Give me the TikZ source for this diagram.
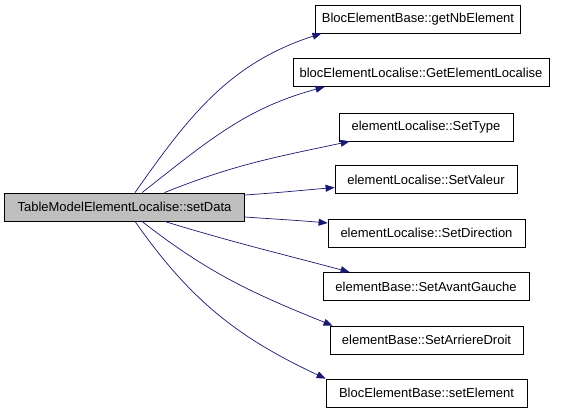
\documentclass[tikz,border=0pt]{standalone}
\usepackage{fontspec}
\setmainfont{Liberation Sans}
\definecolor{CallNavy}{HTML}{191970}
\definecolor{FnGray}{HTML}{BFBFBF}
\usetikzlibrary{arrows.meta,positioning}

\begin{document}
\begin{tikzpicture}[x=1pt,y=-1pt,>={Triangle[length=9pt,width=7pt]},
  fn/.style={draw,fill=white,line width=0.8pt,minimum height=28pt,inner xsep=6pt,font=\fontsize{13}{15}\selectfont},
  call/.style={->,CallNavy,line width=0.7pt}]
  \useasboundingbox (0,0) rectangle (565,413);
  \node[fn,fill=FnGray,minimum width=240pt] (main) at (124.5,207) {TableModelElementLocalise::setData};
  \node[fn,minimum width=202pt] (nb) at (418,19) {BlocElementBase::getNbElement};
  \node[fn,minimum width=256pt] (gel) at (421,72.5) {blocElementLocalise::GetElementLocalise};
  \node[fn,minimum width=174pt] (type) at (426,127) {elementLocalise::SetType};
  \node[fn,minimum width=182pt] (val) at (426,179.5) {elementLocalise::SetValeur};
  \node[fn,minimum width=197pt] (dir) at (426.5,233) {elementLocalise::SetDirection};
  \node[fn,minimum width=206pt] (avg) at (426,286.5) {elementBase::SetAvantGauche};
  \node[fn,minimum width=193pt] (ard) at (426.5,340) {elementBase::SetArriereDroit};
  \node[fn,minimum width=201pt] (sel) at (426.5,393) {BlocElementBase::setElement};
  % calls from setData
  \draw[call] ([xshift=10.5pt]main.north) to[out=55,in=198] ([xshift=6pt]nb.south west);
  \draw[call] ([xshift=17.5pt]main.north) to[out=38,in=195] ([xshift=32pt]gel.south west);
  \draw[call] ([xshift=40pt]main.north) to[out=22,in=192] ([xshift=11pt]type.south west);
  \draw[call] ([yshift=12pt]main.east) to[out=4,in=185] ([yshift=-8pt]val.west);
  \draw[call] ([yshift=-10pt]main.east) to[out=-4,in=175] ([yshift=10pt]dir.west);
  \draw[call] ([xshift=40pt]main.south) to[out=-17,in=165] ([xshift=27pt]avg.north west);
  \draw[call] ([xshift=17.5pt]main.south) to[out=-38,in=158] ([xshift=3pt]ard.north west);
  \draw[call] ([xshift=10.5pt]main.south) to[out=-55,in=155] ([xshift=0pt]sel.north west);
\end{tikzpicture}
\end{document}
